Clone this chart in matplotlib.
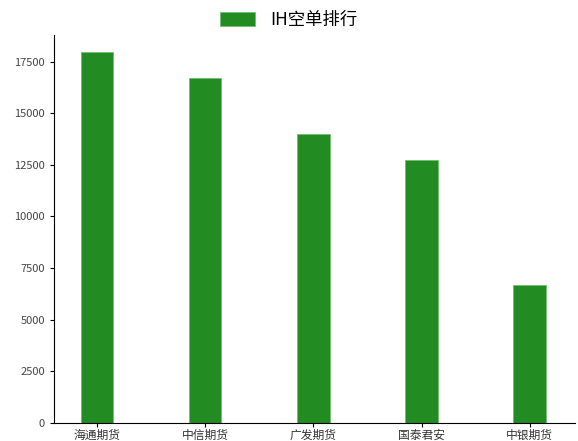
import matplotlib
matplotlib.use('Agg')
import matplotlib.pyplot as plt
import numpy as np

plt.rcParams['font.family'] = ['Noto Sans CJK SC', 'DejaVu Sans']

brokers = ['海通期货', '中信期货', '广发期货', '国泰君安', '中银期货']
short_pos = [17950, 16720, 14010, 12740, 6690]

fig = plt.figure(figsize=(5.78, 4.41), dpi=100)
ax = fig.add_axes([0.093, 0.041, 0.902, 0.88])
x = np.arange(len(brokers))
ax.bar(x, short_pos, width=0.3, color='#228B22', edgecolor='#6fbf6f', linewidth=0.6, label='IH空单排行')

ax.set_xticks(x)
ax.set_xticklabels(brokers, fontsize=8.5, color='#333333')
ax.set_yticks(np.arange(0, 17501, 2500))
ax.tick_params(axis='y', labelsize=8, labelcolor='#444444', length=3)
ax.tick_params(axis='x', length=3, pad=1.5)
ax.set_xlim(-0.4, 4.42)
ax.set_ylim(0, 18800)
ax.spines['top'].set_visible(False)
ax.spines['right'].set_visible(False)

fig.legend(loc='upper center', bbox_to_anchor=(0.5, 1.01), frameon=False, fontsize=12.5,
           handlelength=2.0, handleheight=0.9, handletextpad=0.9)

fig.savefig('out.png', dpi=100)
